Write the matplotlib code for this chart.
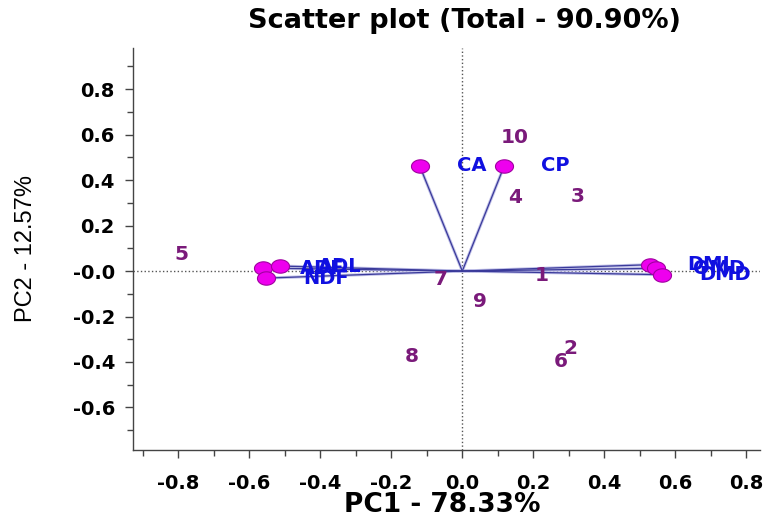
import numpy as np
import matplotlib
matplotlib.use('Agg')
import matplotlib.pyplot as plt
from matplotlib.path import Path
from matplotlib.ticker import MultipleLocator, FixedLocator, FixedFormatter

plt.rcParams['font.family'] = ['DejaVu Sans']

# loadings (variables)
var_names = ['ADF', 'ADL', 'NDF', 'CA', 'CP', 'DMI', 'OMD', 'DMD']
var_pc1 = [-0.563, -0.513, -0.552, -0.120, 0.118, 0.529, 0.546, 0.562]
var_pc2 = [0.013, 0.022, -0.031, 0.462, 0.462, 0.028, 0.012, -0.016]

# scores (samples)
obs_names = ['1', '2', '3', '4', '5', '6', '7', '8', '9', '10']
obs_pc1 = [0.224, 0.305, 0.325, 0.148, -0.791, 0.277, -0.062, -0.143, 0.050, 0.148]
obs_pc2 = [-0.018, -0.339, 0.330, 0.325, 0.073, -0.400, -0.035, -0.374, -0.135, 0.589]

xticks = [-0.8, -0.6, -0.4, -0.2, 0.0, 0.2, 0.4, 0.6, 0.8]
xticklabels = ['-0.8', '-0.6', '-0.4', '-0.2', '0.0', '0.2', '0.4', '0.6', '0.8']
yticks = [-0.6, -0.4, -0.2, 0.0, 0.2, 0.4, 0.6, 0.8]
yticklabels = ['-0.6', '-0.4', '-0.2', '-0.0', '0.2', '0.4', '0.6', '0.8']

fig = plt.figure(figsize=(7.68, 5.17), dpi=100)
ax = fig.add_axes([0.1732, 0.1296, 0.8164, 0.7776])
ax.set_xlim(-0.928, 0.839)
ax.set_ylim(-0.787, 0.981)

# dotted zero lines
ax.axhline(0, color='#555555', ls=':', lw=1, zorder=1)
ax.axvline(0, color='#555555', ls=':', lw=1, zorder=1)

# ellipse-shaped marker for the loading points
t = np.linspace(0, 2 * np.pi, 60)
ell = Path(np.column_stack([np.cos(t) * 1.35, np.sin(t)]), closed=True)

for name, x, y in zip(var_names, var_pc1, var_pc2):
    ax.plot([0, x], [0, y], color='#c0c0e8', lw=2.2, zorder=2, solid_capstyle='butt')
    ax.plot([0, x], [0, y], color='#3a3a9a', lw=0.9, zorder=3)
    ax.plot(x, y, marker=ell, ms=13, mfc='#ee00ee', mec='#a000a0', mew=0.8, zorder=4)
    ax.text(x + 0.105, y, name, color='#1010e0', fontsize=14, fontweight='bold',
            ha='left', va='center', zorder=5)

for name, x, y in zip(obs_names, obs_pc1, obs_pc2):
    ax.text(x, y, name, color='#7a1a7a', fontsize=14.5, fontweight='bold',
            ha='center', va='center', zorder=5)

for side in ['top', 'right']:
    ax.spines[side].set_visible(False)
for side in ['left', 'bottom']:
    ax.spines[side].set_color('#444444')
    ax.spines[side].set_linewidth(1)

ax.xaxis.set_major_locator(FixedLocator(xticks))
ax.xaxis.set_major_formatter(FixedFormatter(xticklabels))
ax.yaxis.set_major_locator(FixedLocator(yticks))
ax.yaxis.set_major_formatter(FixedFormatter(yticklabels))
ax.xaxis.set_minor_locator(MultipleLocator(0.1))
ax.yaxis.set_minor_locator(MultipleLocator(0.1))
ax.tick_params(which='major', direction='out', length=6, width=1, color='#444444',
               labelsize=14)
ax.tick_params(which='minor', direction='out', length=4, width=1, color='#444444')
ax.tick_params(axis='x', which='major', pad=11)
ax.tick_params(axis='y', which='major', pad=7)
for lab in ax.get_xticklabels() + ax.get_yticklabels():
    lab.set_fontweight('bold')

fig.text(442 / 768, 1 - 505 / 517, 'PC1 - 78.33%', fontsize=19, fontweight='bold',
         ha='center', va='center')
fig.text(26 / 768, 1 - 249 / 517, 'PC2 - 12.57%', fontsize=17, rotation=90,
         ha='center', va='center', family=['Liberation Sans', 'DejaVu Sans'])
fig.text(465 / 768, 1 - 21 / 517, 'Scatter plot (Total - 90.90%)', fontsize=19.5,
         fontweight='bold', ha='center', va='center')

fig.savefig('out.png', dpi=100)
